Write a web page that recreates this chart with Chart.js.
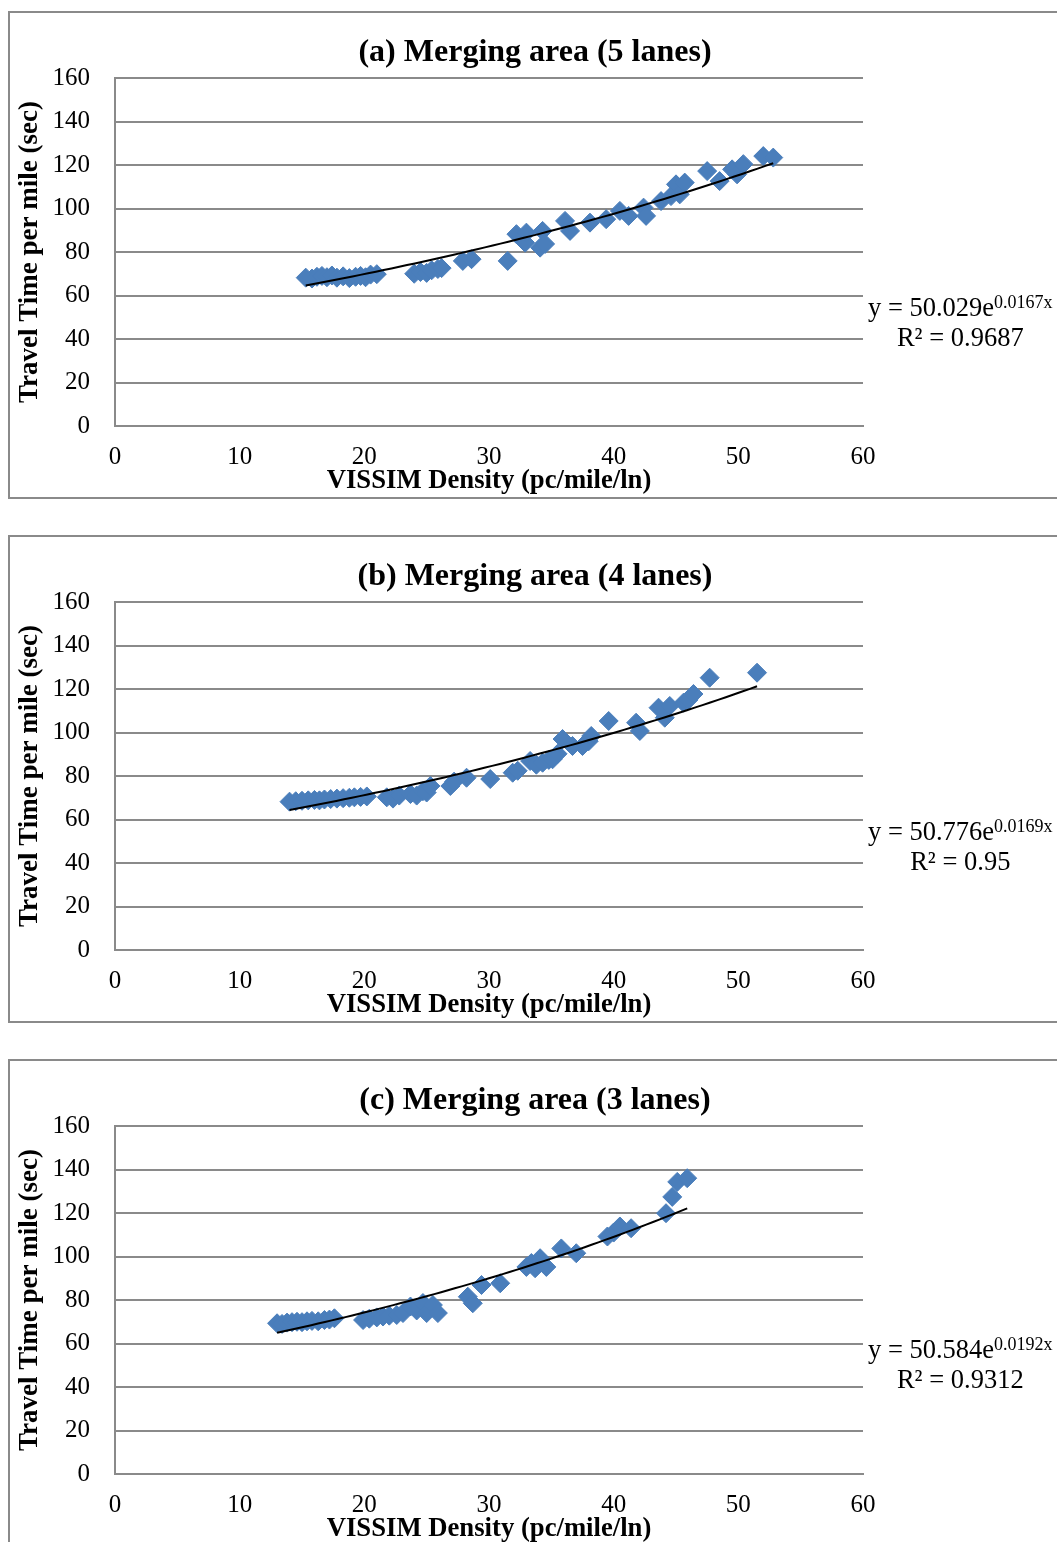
<!DOCTYPE html>
<html lang="en">
<head>
<meta charset="UTF-8">
<title>Merging area travel time vs density</title>
<script src="https://cdn.jsdelivr.net/npm/chart.js"></script>
<style>
body {
    margin: 0;
    background: #fff;
    overflow: hidden;
}
.panel {
    position: absolute;
    left: 8px;
    width: 1050px;
    height: 484px;
    border: 2px solid #8a8a8a;
    background: #fff;
}
canvas { display: block; }
</style>
</head>
<body>
<div class="panel" style="top:11px"><canvas id="chartA" width="1050" height="484"></canvas></div>
<div class="panel" style="top:535px"><canvas id="chartB" width="1050" height="484"></canvas></div>
<div class="panel" style="top:1059px"><canvas id="chartC" width="1050" height="484"></canvas></div>

<script>
// (a) 5 lanes
const densityA=[15.3,15.8,16.2,16.6,17.0,17.4,17.8,18.3,18.8,19.3,19.7,20.1,20.5,21.0,
    24.0,24.5,25.0,25.4,25.9,26.2,27.9,28.6,31.5,32.2,32.9,33.0,34.1,34.3,34.5,
    36.1,36.5,38.1,39.4,40.5,41.2,42.4,42.6,43.8,44.6,45.0,45.3,45.7,47.5,48.5,49.5,49.9,50.4,52.0,52.8];
const travelA=[68.2,67.8,68.6,69.0,68.4,69.2,68.2,68.8,68.0,68.6,69.0,68.4,69.6,69.8,
    70.0,70.8,70.4,71.6,72.2,72.6,75.9,76.7,75.9,88.2,84.3,88.9,82.0,89.7,83.7,
    94.3,89.7,93.5,95.1,98.9,96.6,100.4,96.6,103.4,105.7,111.1,106.5,111.9,117.2,112.6,118.0,115.7,120.4,124.1,123.4];

// (b) 4 lanes
const densityB=[14.0,14.5,15.0,15.5,16.0,16.4,16.8,17.3,17.8,18.3,18.8,19.2,19.7,20.2,
    21.8,22.3,22.8,23.7,24.2,24.7,25.0,25.3,26.9,27.2,28.2,30.1,31.9,32.3,33.3,33.8,34.3,34.8,35.1,35.5,
    35.9,36.7,37.5,38.0,38.2,39.6,41.8,42.1,43.6,44.1,44.5,45.6,46.0,46.4,47.7,51.5];
const travelB=[68.2,68.4,68.6,68.8,69.0,68.8,69.2,69.4,69.6,69.8,70.0,70.2,70.4,70.6,
    70.2,69.6,71.0,71.7,71.0,73.0,72.4,75.4,75.4,77.4,79.2,78.6,81.5,82.4,86.9,85.2,86.1,87.4,87.7,90.2,
    97.0,93.8,93.8,96.0,98.4,105.3,104.5,100.7,111.4,106.8,112.2,113.7,115.0,117.7,125.2,127.5];

// (c) 3 lanes
const densityC=[13.0,13.4,13.8,14.2,14.6,15.0,15.4,15.8,16.3,16.8,17.2,17.6,
    19.9,20.4,21.0,21.5,22.0,22.6,23.1,23.7,24.2,24.7,25.0,25.5,25.9,28.3,28.7,29.4,30.9,
    33.0,33.4,33.7,34.1,34.6,35.8,37.0,39.5,40.0,40.5,41.4,44.2,44.7,45.1,45.9];
const travelC=[69.3,69.0,69.6,69.8,70.0,69.8,70.2,70.4,70.2,70.8,71.0,71.6,
    70.8,71.4,72.0,72.4,72.8,73.1,74.0,77.0,75.2,78.6,74.0,77.7,74.0,81.5,78.5,86.9,87.7,
    95.2,97.0,94.6,99.2,95.2,103.7,101.5,109.2,111.0,113.8,113.0,119.9,127.4,134.3,136.0];

// exponential trendlines as printed on the chart: y = a * e^(b x)
const trendA=[50.029,0.0167], r2A="0.9687";
const trendB=[50.776,0.0169], r2B="0.95";
const trendC=[50.584,0.0192], r2C="0.9312";

const titles=["(a) Merging area (5 lanes)","(b) Merging area (4 lanes)","(c) Merging area (3 lanes)"];
const xTitle="VISSIM Density (pc/mile/ln)";
const yTitle="Travel Time per mile (sec)";

const SERIF="'Liberation Serif', 'Times New Roman', serif";
const BLUE="#4A7EBB";
const GRID="#8a8a8a";

function trendPoints(xs,coef){
    const lo=Math.min(...xs), hi=Math.max(...xs);
    const pts=[];
    for(let i=0;i<=60;i++){
        const x=lo+(hi-lo)*i/60;
        pts.push({x, y:coef[0]*Math.exp(coef[1]*x)});
    }
    return pts;
}

// title + trendline equation labels
const labelPlugin={
    id:'labels',
    afterDraw(chart){
        const o=chart.options.plugins.labels;
        const ctx=chart.ctx, ca=chart.chartArea;
        ctx.save();
        ctx.fillStyle="#000";
        ctx.font="bold 32px "+SERIF;
        ctx.textAlign="center";
        ctx.textBaseline="alphabetic";
        ctx.fillText(o.title, chart.width/2, 48);

        ctx.textAlign="left";
        const main="y = "+o.coef[0].toFixed(3)+"e";
        const sup=o.coef[1].toFixed(4)+"x";
        ctx.font="26.5px "+SERIF;
        const wMain=ctx.measureText(main).width;
        ctx.font="18px "+SERIF;
        const wSup=ctx.measureText(sup).width;
        const x0=ca.right+5, y1=ca.top+o.dy;
        ctx.font="26.5px "+SERIF;
        ctx.fillText(main, x0, y1);
        ctx.font="18px "+SERIF;
        ctx.fillText(sup, x0+wMain, y1-8);
        ctx.font="26.5px "+SERIF;
        ctx.textAlign="center";
        ctx.fillText("R\u00B2 = "+o.r2, x0+(wMain+wSup)/2, y1+30);
        ctx.restore();
    }
};

function makeChart(id,xs,ys,coef,r2,title,dy){
    const pts=xs.map((x,i)=>({x, y:ys[i]}));
    return new Chart(document.getElementById(id),{
        type:'scatter',
        data:{datasets:[
            {data:trendPoints(xs,coef), type:'line', showLine:true, borderColor:'#000', borderWidth:2,
             pointRadius:0, fill:false, tension:0, order:0},
            {data:pts, pointStyle:'rectRot', pointRadius:9.5, backgroundColor:BLUE,
             borderColor:BLUE, borderWidth:1, order:1}
        ]},
        options:{
            responsive:false,
            animation:false,
            devicePixelRatio:1,
            layout:{padding:{top:65,right:197,bottom:0,left:0}},
            plugins:{
                legend:{display:false},
                tooltip:{enabled:false},
                labels:{title, coef, r2, dy}
            },
            scales:{
                x:{
                    type:'linear', min:0, max:60,
                    ticks:{stepSize:10, padding:16, color:'#000', font:{family:SERIF, size:25}},
                    grid:{display:false, drawTicks:false},
                    border:{display:true, color:GRID, width:2},
                    title:{display:true, text:xTitle, color:'#000', padding:{top:0,bottom:0},
                           font:{family:SERIF, size:26.7, weight:'bold'}},
                    afterFit(s){ s.height=71; }
                },
                y:{
                    min:0, max:160,
                    ticks:{stepSize:20, padding:25, color:'#000', font:{family:SERIF, size:25}},
                    grid:{color:GRID, lineWidth:2, drawTicks:false},
                    border:{display:true, color:GRID, width:2},
                    title:{display:true, text:yTitle, color:'#000', padding:{top:4,bottom:0},
                           font:{family:SERIF, size:27, weight:'bold'}},
                    afterFit(s){ s.width=105; }
                }
            }
        },
        plugins:[labelPlugin]
    });
}

makeChart("chartA",densityA,travelA,trendA,r2A,titles[0],238);
makeChart("chartB",densityB,travelB,trendB,r2B,titles[1],238);
makeChart("chartC",densityC,travelC,trendC,r2C,titles[2],232);
</script>
</body>
</html>
